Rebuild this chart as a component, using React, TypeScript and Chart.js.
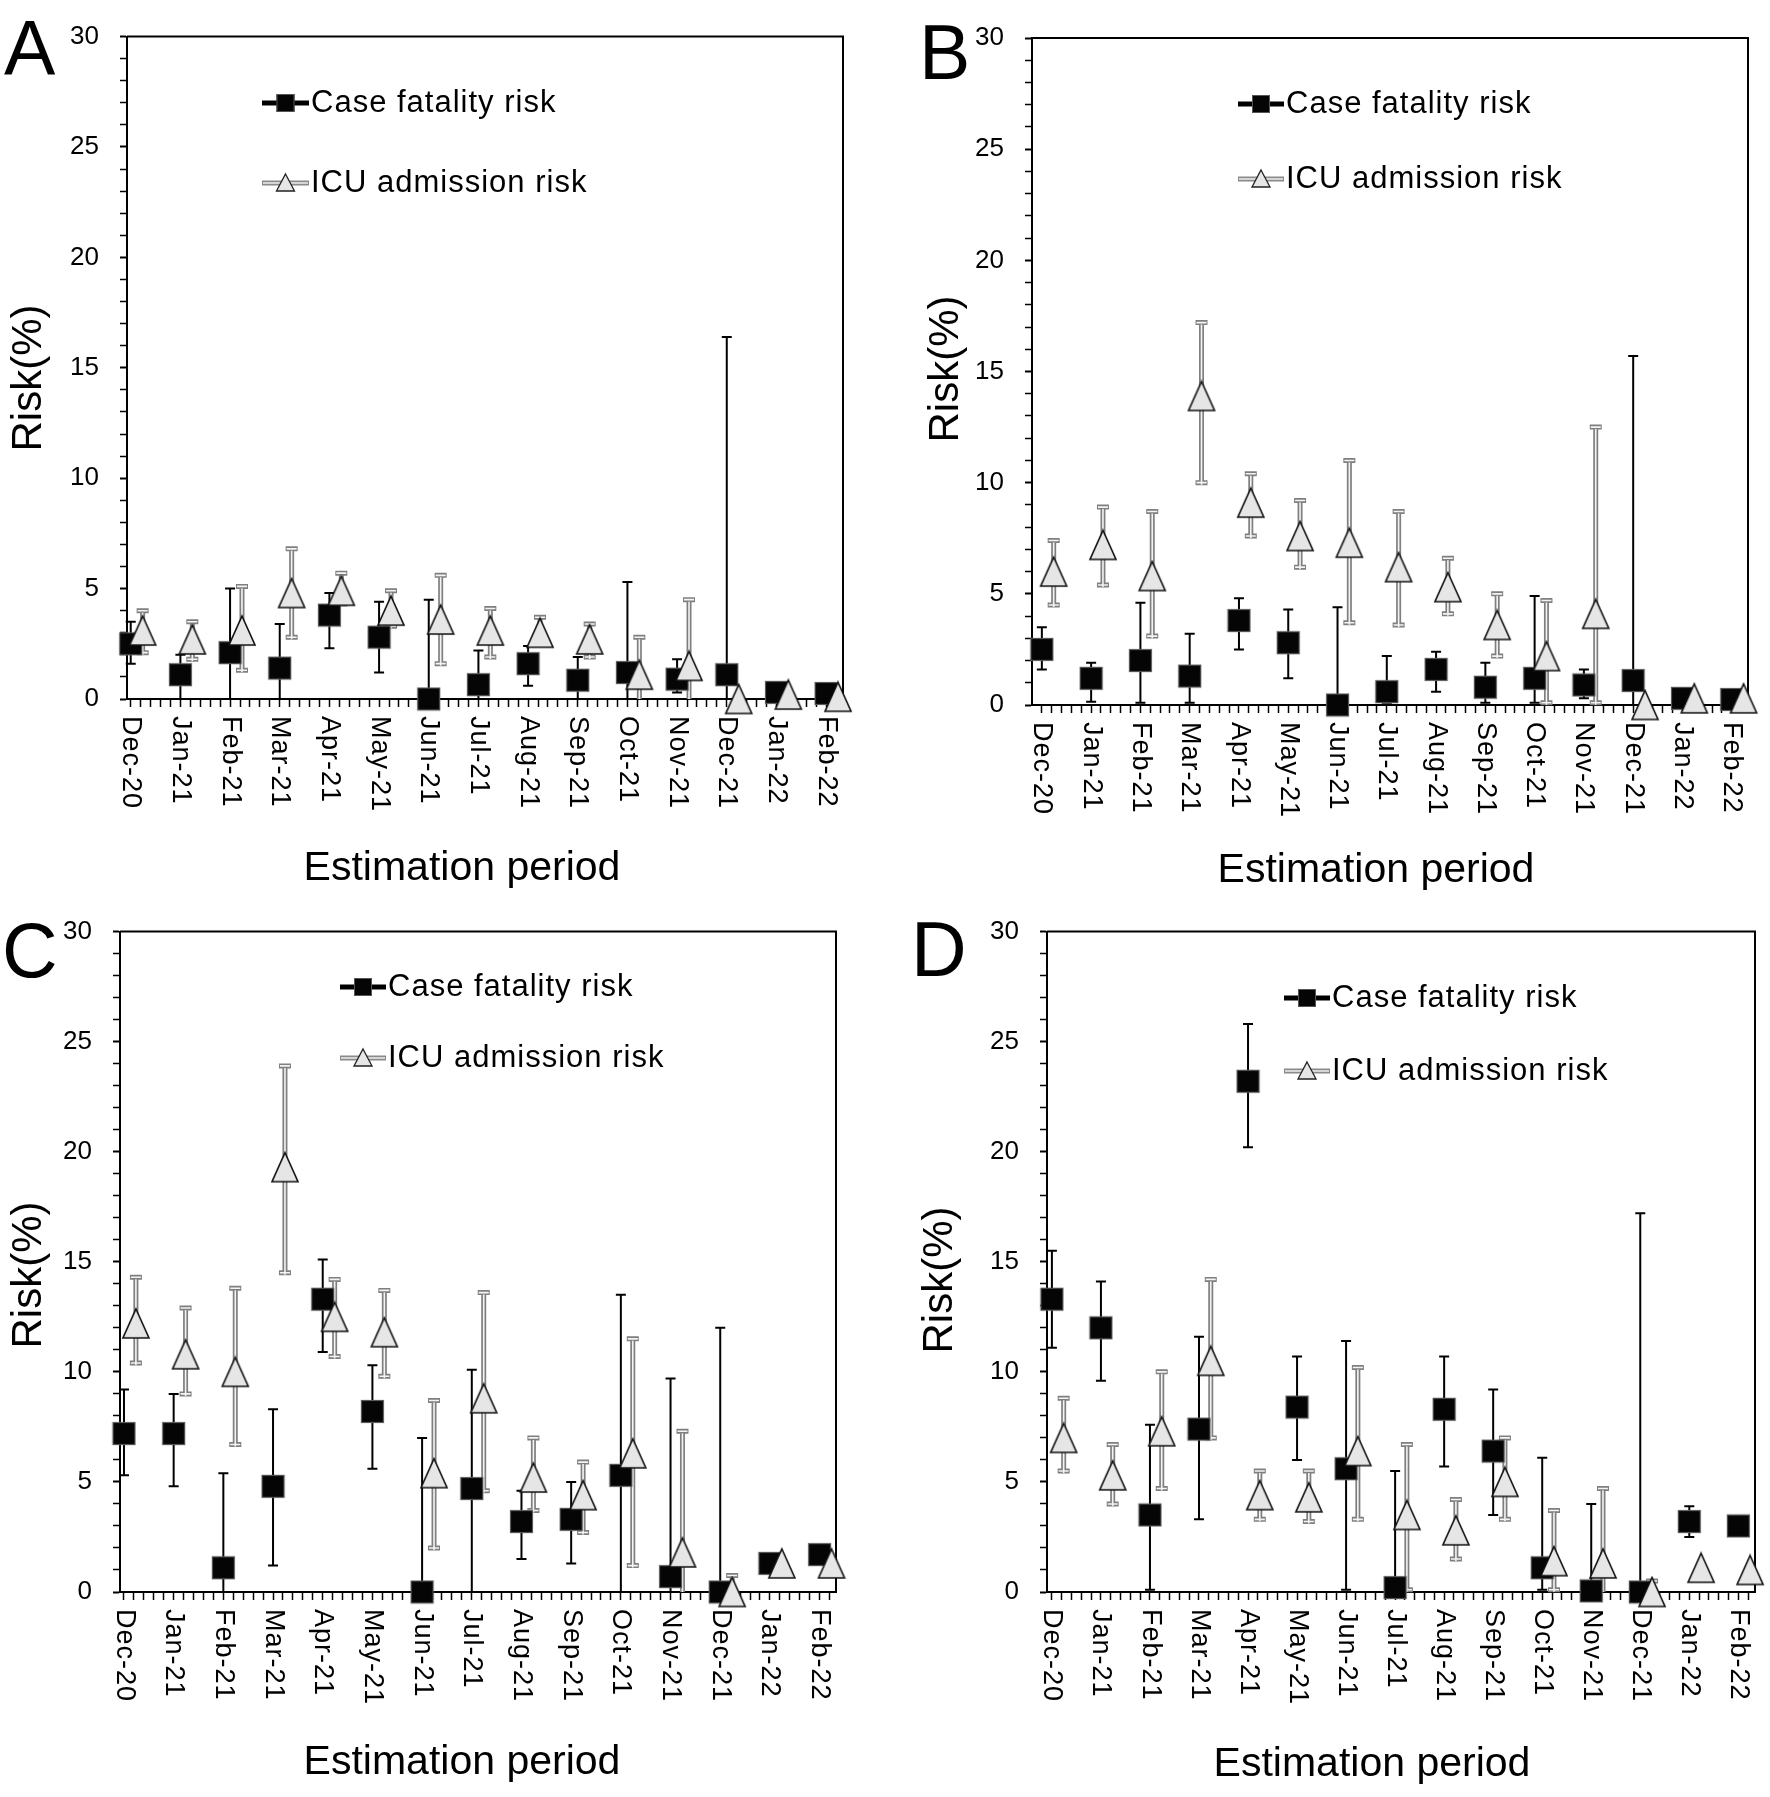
import React, { useEffect, useRef } from 'react';
import { Chart, registerables } from 'chart.js';

Chart.register(...registerables);

const FONT = '"Liberation Sans", Arial, Helvetica, sans-serif';

const categories = ['Dec-20', 'Jan-21', 'Feb-21', 'Mar-21', 'Apr-21', 'May-21', 'Jun-21', 'Jul-21', 'Aug-21', 'Sep-21', 'Oct-21', 'Nov-21', 'Dec-21', 'Jan-22', 'Feb-22'];
const yMajorTicks = [0, 5, 10, 15, 20, 25, 30];
const seriesNames = ['Case fatality risk', 'ICU admission risk'];
const yAxisTitle = 'Risk(%)';
const xAxisTitle = 'Estimation period';

// Panel A
const cfrA = [2.5, 1.1, 2.1, 1.4, 3.8, 2.8, 0.0, 0.65, 1.6, 0.85, 1.2, 0.9, 1.1, 0.3, 0.25];
const cfrALow = [1.6, 0.0, 0.0, 0.0, 2.3, 1.2, 0.0, 0.0, 0.6, 0.0, 0.0, 0.3, 0.0, 0.3, 0.25];
const cfrAHigh = [3.5, 2.0, 5.0, 3.4, 4.8, 4.4, 4.5, 2.2, 2.4, 1.9, 5.3, 1.8, 16.4, 0.3, 0.25];
const icuA = [3.1, 2.7, 3.1, 4.8, 4.9, 4.0, 3.6, 3.1, 3.0, 2.7, 1.1, 1.5, 0.0, 0.2, 0.1];
const icuALow = [2.1, 1.8, 1.3, 2.8, 4.3, 3.3, 1.6, 1.9, 2.5, 1.9, 0.0, 0.0, 0.0, 0.2, 0.1];
const icuAHigh = [4.0, 3.5, 5.1, 6.8, 5.7, 4.9, 5.6, 4.1, 3.7, 3.4, 2.8, 4.5, 0.0, 0.2, 0.1];

// Panel B
const cfrB = [2.5, 1.2, 2.0, 1.3, 3.8, 2.8, 0.0, 0.6, 1.6, 0.8, 1.2, 0.9, 1.1, 0.3, 0.25];
const cfrBLow = [1.6, 0.15, 0.1, 0.1, 2.5, 1.2, 0.0, 0.1, 0.6, 0.1, 0.1, 0.3, 0.0, 0.3, 0.25];
const cfrBHigh = [3.5, 1.9, 4.6, 3.2, 4.8, 4.3, 4.4, 2.2, 2.4, 1.9, 4.9, 1.6, 15.7, 0.3, 0.25];
const icuB = [6.0, 7.2, 5.8, 13.9, 9.1, 7.6, 7.3, 6.2, 5.3, 3.6, 2.2, 4.1, 0.0, 0.3, 0.3];
const icuBLow = [4.5, 5.4, 3.1, 10.0, 7.6, 6.2, 3.7, 3.6, 4.1, 2.2, 0.1, 0.1, 0.0, 0.3, 0.3];
const icuBHigh = [7.4, 8.9, 8.7, 17.2, 10.4, 9.2, 11.0, 8.7, 6.6, 5.0, 4.7, 12.5, 0.0, 0.3, 0.3];

// Panel C
const cfrC = [7.2, 7.2, 1.1, 4.8, 13.3, 8.2, 0.0, 4.7, 3.2, 3.3, 5.3, 0.7, 0.0, 1.3, 1.7];
const cfrCLow = [5.3, 4.8, 0.0, 1.2, 10.9, 5.6, 0.0, 0.0, 1.5, 1.3, 0.0, 0.0, 0.0, 1.3, 1.7];
const cfrCHigh = [9.2, 9.0, 5.4, 8.3, 15.1, 10.3, 7.0, 10.1, 4.6, 5.0, 13.5, 9.7, 12.0, 1.3, 1.7];
const icuC = [12.2, 10.8, 10.0, 19.3, 12.5, 11.8, 5.4, 8.8, 5.2, 4.4, 6.3, 1.8, 0.0, 1.3, 1.3];
const icuCLow = [10.4, 9.0, 6.7, 14.5, 10.7, 9.8, 2.0, 4.6, 3.7, 2.7, 1.2, 0.0, 0.0, 1.3, 1.3];
const icuCHigh = [14.3, 12.9, 13.8, 23.9, 14.2, 13.7, 8.7, 13.6, 7.0, 5.9, 11.5, 7.3, 0.75, 1.3, 1.3];

// Panel D
const cfrD = [13.3, 12.0, 3.5, 7.4, 23.2, 8.4, 5.6, 0.2, 8.3, 6.4, 1.1, 0.05, 0.0, 3.2, 3.0];
const cfrDLow = [11.1, 9.6, 0.1, 3.3, 20.2, 6.0, 0.1, 0.0, 5.7, 3.5, 0.1, 0.0, 0.0, 2.5, 3.0];
const cfrDHigh = [15.5, 14.1, 7.6, 11.6, 25.8, 10.7, 11.4, 5.5, 10.7, 9.2, 6.1, 4.0, 17.2, 3.9, 3.0];
const icuD = [7.0, 5.3, 7.3, 10.5, 4.4, 4.3, 6.4, 3.5, 2.8, 5.0, 1.4, 1.3, 0.0, 1.1, 1.0];
const icuDLow = [5.5, 4.0, 4.7, 7.0, 3.3, 3.2, 3.3, 0.1, 1.5, 3.3, 0.1, 0.0, 0.0, 1.1, 1.0];
const icuDHigh = [8.8, 6.7, 10.0, 14.2, 5.5, 5.5, 10.2, 6.7, 4.2, 7.0, 3.7, 4.7, 0.5, 1.1, 1.0];

const ICU_OFFSET = 0.24;

type Panel = {
  letter: string;
  cfr: number[]; cfrLow: number[]; cfrHigh: number[];
  icu: number[]; icuLow: number[]; icuHigh: number[];
  canvas: { left: number; top: number; width: number; height: number };
  area: { left: number; top: number; right: number; bottom: number };
  xMin: number; xMax: number;
  letterPos: [number, number];
  yTitlePos: [number, number];
  xTitlePos: [number, number];
  legend: { x0: number; x1: number; tx: number; y1: number; y2: number };
};

const panels: Panel[] = [
  {
    letter: 'A', cfr: cfrA, cfrLow: cfrALow, cfrHigh: cfrAHigh, icu: icuA, icuLow: icuALow, icuHigh: icuAHigh,
    canvas: { left: 0, top: 0, width: 885, height: 895 },
    area: { left: 127, top: 32, right: 843, bottom: 699 },
    xMin: -0.075, xMax: 14.34,
    letterPos: [4, 75], yTitlePos: [29, 378], xTitlePos: [462, 869],
    legend: { x0: 262, x1: 309, tx: 311, y1: 103, y2: 183 },
  },
  {
    letter: 'B', cfr: cfrB, cfrLow: cfrBLow, cfrHigh: cfrBHigh, icu: icuB, icuLow: icuBLow, icuHigh: icuBHigh,
    canvas: { left: 885, top: 0, width: 885, height: 895 },
    area: { left: 1032, top: 38, right: 1748, bottom: 705 },
    xMin: -0.2, xMax: 14.33,
    letterPos: [919, 79], yTitlePos: [946, 369], xTitlePos: [1376, 871],
    legend: { x0: 1238, x1: 1284, tx: 1286, y1: 104, y2: 179 },
  },
  {
    letter: 'C', cfr: cfrC, cfrLow: cfrCLow, cfrHigh: cfrCHigh, icu: icuC, icuLow: icuCLow, icuHigh: icuCHigh,
    canvas: { left: 0, top: 895, width: 885, height: 902 },
    area: { left: 120, top: 927, right: 836, bottom: 1592 },
    xMin: -0.08, xMax: 14.33,
    letterPos: [2, 977], yTitlePos: [29, 1275], xTitlePos: [462, 1763],
    legend: { x0: 340, x1: 386, tx: 388, y1: 987, y2: 1058 },
  },
  {
    letter: 'D', cfr: cfrD, cfrLow: cfrDLow, cfrHigh: cfrDHigh, icu: icuD, icuLow: icuDLow, icuHigh: icuDHigh,
    canvas: { left: 885, top: 895, width: 885, height: 902 },
    area: { left: 1047, top: 925, right: 1762, bottom: 1592 },
    xMin: -0.1, xMax: 14.34,
    letterPos: [911, 976], yTitlePos: [940, 1280], xTitlePos: [1372, 1765],
    legend: { x0: 1284, x1: 1330, tx: 1332, y1: 998, y2: 1071 },
  },
];

function makeSquare(size: number) {
  const c = document.createElement('canvas');
  c.width = size + 2; c.height = size + 2;
  const g = c.getContext('2d')!;
  g.fillStyle = '#050505';
  g.fillRect(1, 1, size, size);
  g.strokeStyle = '#5a5a5a';
  g.lineWidth = 1.2;
  g.strokeRect(1.5, 1.5, size - 1, size - 1);
  return c;
}

function makeTriangle(w: number, h: number) {
  const c = document.createElement('canvas');
  c.width = Math.ceil(w + 4); c.height = Math.ceil(h + 4);
  const g = c.getContext('2d')!;
  const cx = c.width / 2, cy = c.height / 2;
  g.beginPath();
  g.moveTo(cx, cy - h / 2);
  g.lineTo(cx + w / 2, cy + h / 2);
  g.lineTo(cx - w / 2, cy + h / 2);
  g.closePath();
  g.fillStyle = '#e6e6e6';
  g.fill();
  g.lineWidth = 1.6;
  g.strokeStyle = '#111';
  g.lineJoin = 'miter';
  g.stroke();
  return c;
}

function makeDecor(p: Panel) {
  const ox = p.canvas.left, oy = p.canvas.top;
  return {
    id: 'decor' + p.letter,
    beforeDatasetsDraw(chart: any) {
      const { ctx, chartArea: a } = chart;
      const xs = chart.scales.x, ys = chart.scales.y;
      ctx.save();
      ctx.strokeStyle = '#000';
      ctx.lineWidth = 2;
      ctx.beginPath();
      ctx.moveTo(a.left, a.top);
      ctx.lineTo(a.right, a.top);
      ctx.lineTo(a.right, a.bottom);
      ctx.stroke();
      ctx.lineCap = 'butt';
      p.cfr.forEach((_v, i) => {
        const lo = p.cfrLow[i], hi = p.cfrHigh[i];
        if (hi - lo < 0.05) return;
        const px = xs.getPixelForValue(i);
        const yl = ys.getPixelForValue(lo), yh = ys.getPixelForValue(hi);
        ctx.strokeStyle = '#000';
        ctx.lineWidth = 2;
        ctx.beginPath();
        ctx.moveTo(px, yl); ctx.lineTo(px, yh);
        ctx.moveTo(px - 5, yh); ctx.lineTo(px + 5, yh);
        if (lo > 0.05) { ctx.moveTo(px - 5, yl); ctx.lineTo(px + 5, yl); }
        ctx.stroke();
      });
      p.icu.forEach((_v, i) => {
        const lo = p.icuLow[i], hi = p.icuHigh[i];
        if (hi - lo < 0.05) return;
        const px = xs.getPixelForValue(i + ICU_OFFSET);
        const yl = ys.getPixelForValue(lo), yh = ys.getPixelForValue(hi);
        const caps = [yh];
        if (lo > 0.05) caps.push(yl);
        ctx.strokeStyle = '#7f7f7f';
        ctx.lineWidth = 5;
        ctx.beginPath();
        ctx.moveTo(px, yl); ctx.lineTo(px, yh);
        caps.forEach((cy) => { ctx.moveTo(px - 6, cy); ctx.lineTo(px + 6, cy); });
        ctx.stroke();
        ctx.strokeStyle = '#f4f4f4';
        ctx.lineWidth = 1.6;
        ctx.beginPath();
        ctx.moveTo(px, yl + (lo > 0.05 ? 2 : 0)); ctx.lineTo(px, yh + 2);
        caps.forEach((cy) => { ctx.moveTo(px - 5, cy); ctx.lineTo(px + 5, cy); });
        ctx.stroke();
      });
      ctx.restore();
    },
    afterDraw(chart: any) {
      const { ctx, chartArea: a } = chart;
      const xs = chart.scales.x;
      ctx.save();
      ctx.fillStyle = '#000';
      ctx.font = `27px ${FONT}`;
      (ctx as any).letterSpacing = '1px';
      ctx.textAlign = 'left';
      ctx.textBaseline = 'middle';
      categories.forEach((c, i) => {
        const px = xs.getPixelForValue(i);
        ctx.save();
        ctx.translate(px, a.bottom + 17);
        ctx.rotate(Math.PI / 2);
        ctx.fillText(c, 0, 0);
        ctx.restore();
      });
      (ctx as any).letterSpacing = '0px';
      ctx.font = `41px ${FONT}`;
      ctx.textAlign = 'center';
      ctx.textBaseline = 'middle';
      ctx.fillText(xAxisTitle, p.xTitlePos[0] - ox, p.xTitlePos[1] - oy);
      ctx.save();
      ctx.translate(p.yTitlePos[0] - ox, p.yTitlePos[1] - oy);
      ctx.rotate(-Math.PI / 2);
      ctx.font = `42px ${FONT}`;
      ctx.fillText(yAxisTitle, 0, 0);
      ctx.restore();
      ctx.font = `77px ${FONT}`;
      ctx.textAlign = 'left';
      ctx.textBaseline = 'alphabetic';
      ctx.fillText(p.letter, p.letterPos[0] - ox, p.letterPos[1] - oy);
      const lg = p.legend;
      const x0 = lg.x0 - ox, x1 = lg.x1 - ox, mx = (x0 + x1) / 2;
      const y1 = lg.y1 - oy, y2 = lg.y2 - oy;
      ctx.strokeStyle = '#000';
      ctx.lineWidth = 5;
      ctx.beginPath(); ctx.moveTo(x0, y1); ctx.lineTo(x1, y1); ctx.stroke();
      ctx.fillStyle = '#050505';
      ctx.fillRect(mx - 9, y1 - 9, 18, 18);
      ctx.strokeStyle = '#555';
      ctx.lineWidth = 1;
      ctx.strokeRect(mx - 8.5, y1 - 8.5, 17, 17);
      ctx.strokeStyle = '#8a8a8a';
      ctx.lineWidth = 5;
      ctx.beginPath(); ctx.moveTo(x0, y2); ctx.lineTo(x1, y2); ctx.stroke();
      ctx.strokeStyle = '#eeeeee';
      ctx.lineWidth = 1.6;
      ctx.beginPath(); ctx.moveTo(x0 + 1, y2); ctx.lineTo(x1 - 1, y2); ctx.stroke();
      ctx.beginPath();
      ctx.moveTo(mx, y2 - 9); ctx.lineTo(mx + 9, y2 + 8); ctx.lineTo(mx - 9, y2 + 8); ctx.closePath();
      ctx.fillStyle = '#e6e6e6'; ctx.fill();
      ctx.strokeStyle = '#222'; ctx.lineWidth = 1.3; ctx.stroke();
      ctx.fillStyle = '#000';
      ctx.font = `31px ${FONT}`;
      (ctx as any).letterSpacing = '1px';
      ctx.textAlign = 'left';
      ctx.textBaseline = 'middle';
      ctx.fillText(seriesNames[0], lg.tx - ox, y1);
      ctx.fillText(seriesNames[1], lg.tx - ox, y2);
      (ctx as any).letterSpacing = '0px';
      ctx.restore();
    },
  };
}

function PanelChart({ p }: { p: Panel }) {
  const ref = useRef<HTMLCanvasElement | null>(null);
  useEffect(() => {
    const canvas = ref.current;
    if (!canvas) return;
    const sq = makeSquare(23);
    const tri = makeTriangle(26, 29);
    const xMinorTicks: number[] = [];
    for (let k = 0; k <= 71; k++) xMinorTicks.push(k * 0.2);
    const yAllTicks: number[] = [];
    for (let v = 0; v <= 30; v++) yAllTicks.push(v);
    const yW = p.area.left - p.canvas.left;
    const xH = p.canvas.top + p.canvas.height - p.area.bottom;
    const chart = new Chart(canvas, {
      type: 'scatter',
      data: {
        datasets: [
          {
            label: seriesNames[0],
            data: p.cfr.map((v, i) => ({ x: i, y: v })),
            pointStyle: sq as any,
            pointRadius: 12,
            showLine: false,
            order: 2,
            clip: false as any,
          },
          {
            label: seriesNames[1],
            data: p.icu.map((v, i) => ({ x: i + ICU_OFFSET, y: v })),
            pointStyle: tri as any,
            pointRadius: 14,
            showLine: false,
            order: 1,
            clip: false as any,
          },
        ],
      },
      options: {
        animation: false,
        responsive: false,
        maintainAspectRatio: false,
        devicePixelRatio: 1,
        events: [],
        layout: {
          padding: {
            top: p.area.top - p.canvas.top,
            right: p.canvas.left + p.canvas.width - p.area.right,
            left: 0,
            bottom: 0,
          },
        },
        plugins: { legend: { display: false }, tooltip: { enabled: false }, title: { display: false } },
        scales: {
          x: {
            type: 'linear',
            min: p.xMin,
            max: p.xMax,
            afterBuildTicks: (axis: any) => { axis.ticks = xMinorTicks.map((v) => ({ value: v })); },
            afterFit: (axis: any) => { axis.height = xH; },
            ticks: { display: false },
            grid: { display: true, drawOnChartArea: false, drawTicks: true, tickLength: 8, tickColor: '#000', tickWidth: 1.5 },
            border: { display: true, color: '#000', width: 2 },
          },
          y: {
            type: 'linear',
            min: 0,
            max: 30,
            afterBuildTicks: (axis: any) => { axis.ticks = yAllTicks.map((v) => ({ value: v })); },
            afterFit: (axis: any) => { axis.width = yW; },
            ticks: {
              autoSkip: false,
              padding: 21,
              color: '#000',
              font: { family: FONT, size: 26 },
              callback: (v: any) => (yMajorTicks.includes(Number(v)) ? String(v) : ''),
            },
            grid: {
              display: true, drawOnChartArea: false, drawTicks: true, tickLength: 7, tickColor: '#000',
              tickWidth: (ctx: any) => (ctx.tick && yMajorTicks.includes(ctx.tick.value) ? 2 : 1.5),
            },
            border: { display: true, color: '#000', width: 2 },
          },
        },
      } as any,
      plugins: [makeDecor(p) as any],
    });
    return () => chart.destroy();
  }, [p]);
  return (
    <canvas
      ref={ref}
      width={p.canvas.width}
      height={p.canvas.height}
      style={{ position: 'absolute', left: p.canvas.left, top: p.canvas.top, width: p.canvas.width, height: p.canvas.height }}
    />
  );
}

export default function App() {
  return (
    <div style={{ position: 'absolute', left: 0, top: 0, width: 1770, height: 1797, background: '#fff', overflow: 'hidden' }}>
      {panels.map((p) => (
        <PanelChart key={p.letter} p={p} />
      ))}
    </div>
  );
}
